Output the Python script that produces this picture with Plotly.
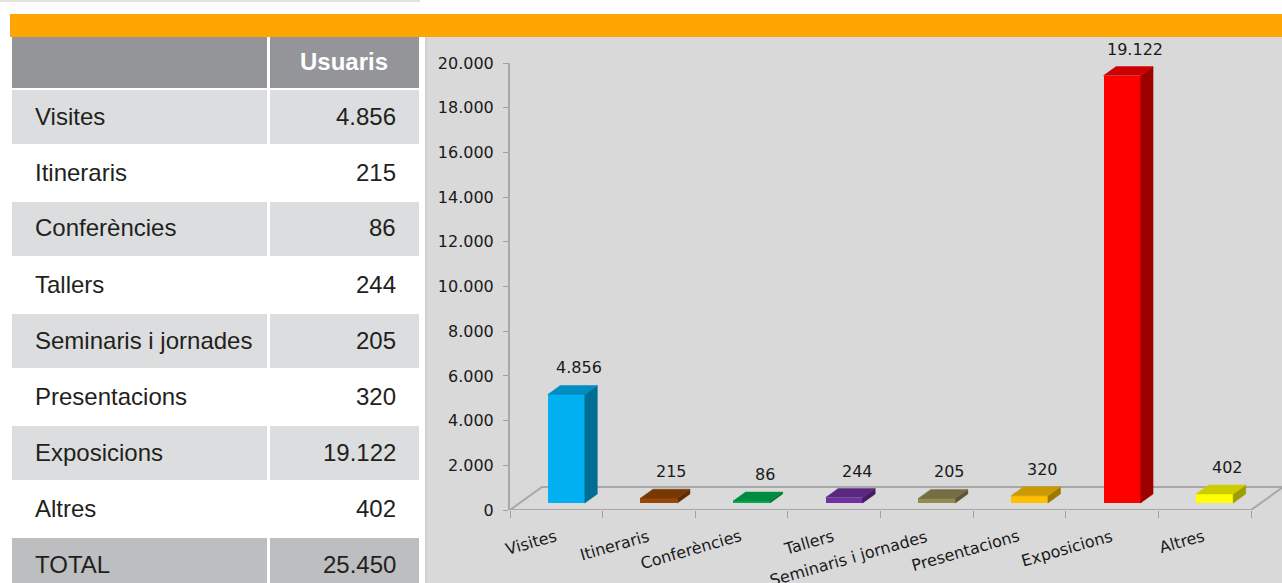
import plotly.graph_objects as go

# data
categories = ["Visites", "Itineraris", "Conferències", "Tallers",
              "Seminaris i jornades", "Presentacions", "Exposicions", "Altres"]
usuaris = [4856, 215, 86, 244, 205, 320, 19122, 402]
bar_colors = ["#00B0F0", "#974706", "#00B050", "#7030A0",
              "#948A54", "#FFC000", "#FF0000", "#FFFF00"]
y_ticks = [0, 2000, 4000, 6000, 8000, 10000, 12000, 14000, 16000, 18000, 20000]
header = ["", "Usuaris"]
total_label = "TOTAL"

W, H = 1282, 583


def fmt(v):
    return f"{v:,}".replace(",", ".")


def shade(hex_color, k):
    r, g, b = (int(hex_color[i:i + 2], 16) for i in (1, 3, 5))
    return f"rgb({int(r * k)},{int(g * k)},{int(b * k)})"


def px(x):
    return x / W


def py(y):
    return 1 - y / H


# axis geometry (pixels -> data units)
x_left, x_last_tick, y_top, y_zero = 510, 1251, 63, 510
ux = len(categories) / (x_last_tick - x_left)
uy = y_ticks[-1] / (y_zero - y_top)
x_max = -0.5 + (W - x_left) * ux

bar_w = 37 * ux
bar_shift = 10 * ux
base = 7 * uy
dx, dy = 12.5 * ux, 9 * uy
floor_dx, floor_dy = 32 * ux, 23 * uy

fig = go.Figure()

# front faces
fig.add_trace(go.Bar(
    x=[i + bar_shift for i in range(len(categories))], y=usuaris, base=base,
    width=bar_w, marker=dict(color=bar_colors, line=dict(width=0)),
    hoverinfo="skip", showlegend=False))

# top and side faces + value labels
for i, (v, c) in enumerate(zip(usuaris, bar_colors)):
    x0 = i + bar_shift - bar_w / 2
    x1 = x0 + bar_w
    y0, y1 = base, base + v
    fig.add_trace(go.Scatter(
        x=[x1, x1 + dx, x1 + dx, x1, x1], y=[y0, y0 + dy, y1 + dy, y1, y0],
        fill="toself", mode="lines", fillcolor=shade(c, 0.62),
        line=dict(color=shade(c, 0.62), width=0.5), hoverinfo="skip", showlegend=False))
    fig.add_trace(go.Scatter(
        x=[x0, x1, x1 + dx, x0 + dx, x0], y=[y1, y1, y1 + dy, y1 + dy, y1],
        fill="toself", mode="lines", fillcolor=shade(c, 0.8),
        line=dict(color=shade(c, 0.8), width=0.5), hoverinfo="skip", showlegend=False))
    fig.add_annotation(x=i + bar_shift + 13 * ux, y=y1 + dy, xref="x", yref="y",
                       text=fmt(v), showarrow=False, xanchor="center", yanchor="bottom",
                       yshift=6, font=dict(family="DejaVu Sans", size=16, color="#1A1A1A"))

# category labels (rotated)
for i, name in enumerate(categories):
    fig.add_annotation(x=i + 5 * ux, y=py(524), xref="x", yref="paper",
                       text=name, showarrow=False, textangle=-16,
                       xanchor="right", yanchor="top",
                       font=dict(family="DejaVu Sans", size=16, color="#1A1A1A"))

shapes = []
# top faint line and orange band
shapes.append(dict(type="rect", xref="paper", yref="paper", x0=px(0), x1=px(420),
                   y0=py(2), y1=py(0), fillcolor="#E2E2E2", line_width=0, layer="below"))
shapes.append(dict(type="rect", xref="paper", yref="paper", x0=px(10), x1=px(W),
                   y0=py(37), y1=py(14), fillcolor="#FFA500", line_width=0, layer="below"))
# chart background
shapes.append(dict(type="rect", xref="paper", yref="paper", x0=px(425), x1=px(427),
                   y0=py(H), y1=py(37), fillcolor="#CFCFCF", line_width=0, layer="below"))
shapes.append(dict(type="rect", xref="paper", yref="paper", x0=px(427), x1=px(W),
                   y0=py(H), y1=py(37), fillcolor="#D9D9D9", line_width=0, layer="below"))
# floor
fx0, fx1 = -0.5, len(categories) - 0.5
shapes.append(dict(
    type="path", xref="x", yref="y", layer="below",
    path=f"M {fx0},0 L {fx1},0 L {fx1 + floor_dx},{floor_dy} L {fx0 + floor_dx},{floor_dy} Z",
    fillcolor="#DADADA", line=dict(color="#A8A8A8", width=2)))

# table
col1 = (12, 267)
col2 = (270, 419)
rows = [(37, 88, "#939598")]
for k in range(len(categories)):
    top = 90 + 56 * k
    rows.append((top, top + 54, "#DCDDDE" if k % 2 == 0 else "#FFFFFF"))
rows.append((538, 600, "#BCBEC0"))
for (t, b, col) in rows:
    for (l, r) in (col1, col2):
        shapes.append(dict(type="rect", xref="paper", yref="paper", x0=px(l), x1=px(r),
                           y0=py(b), y1=py(t), fillcolor=col, line_width=0, layer="below"))

fig.add_annotation(x=px((col2[0] + col2[1]) / 2), y=py(61), xref="paper", yref="paper",
                   text=f"<b>{header[1]}</b>", showarrow=False,
                   xanchor="center", yanchor="middle",
                   font=dict(family="Liberation Sans", size=24, color="white"))
labels = categories + [total_label]
values = usuaris + [sum(usuaris)]
for k, (name, v) in enumerate(zip(labels, values)):
    yc = 116 + 56 * k
    fig.add_annotation(x=px(33), y=py(yc), xref="paper", yref="paper", text=name,
                       showarrow=False, xanchor="left", yanchor="middle",
                       font=dict(family="Liberation Sans", size=24, color="#231F20"))
    fig.add_annotation(x=px(398), y=py(yc), xref="paper", yref="paper", text=fmt(v),
                       showarrow=False, xanchor="right", yanchor="middle",
                       font=dict(family="Liberation Sans", size=24, color="#231F20"))

fig.update_layout(
    width=W, height=H, margin=dict(l=0, r=0, t=0, b=0, autoexpand=False),
    paper_bgcolor="white", plot_bgcolor="#D9D9D9",
    separators=",.", shapes=shapes, bargap=0,
    xaxis=dict(domain=[px(x_left), 1], range=[-0.5, x_max], showgrid=False,
               zeroline=False, showline=False, automargin=False,
               tickvals=[k - 0.5 for k in range(len(categories) + 1)],
               ticktext=[""] * (len(categories) + 1),
               ticks="outside", ticklen=7, tickwidth=1, tickcolor="#A0A0A0"),
    yaxis=dict(domain=[py(y_zero), py(y_top)], range=[0, y_ticks[-1]], showgrid=False,
               zeroline=False, showline=True, linecolor="#A8A8A8", linewidth=2,
               automargin=False,
               tickvals=y_ticks, tickformat=",d", ticks="outside", ticklen=5,
               tickcolor="#A0A0A0", ticklabelstandoff=6,
               tickfont=dict(family="DejaVu Sans", size=16, color="#1A1A1A")),
)

fig.write_html("out.html", config={"displayModeBar": False},
               post_script="document.body.style.margin='0';document.body.style.overflow='hidden';")
